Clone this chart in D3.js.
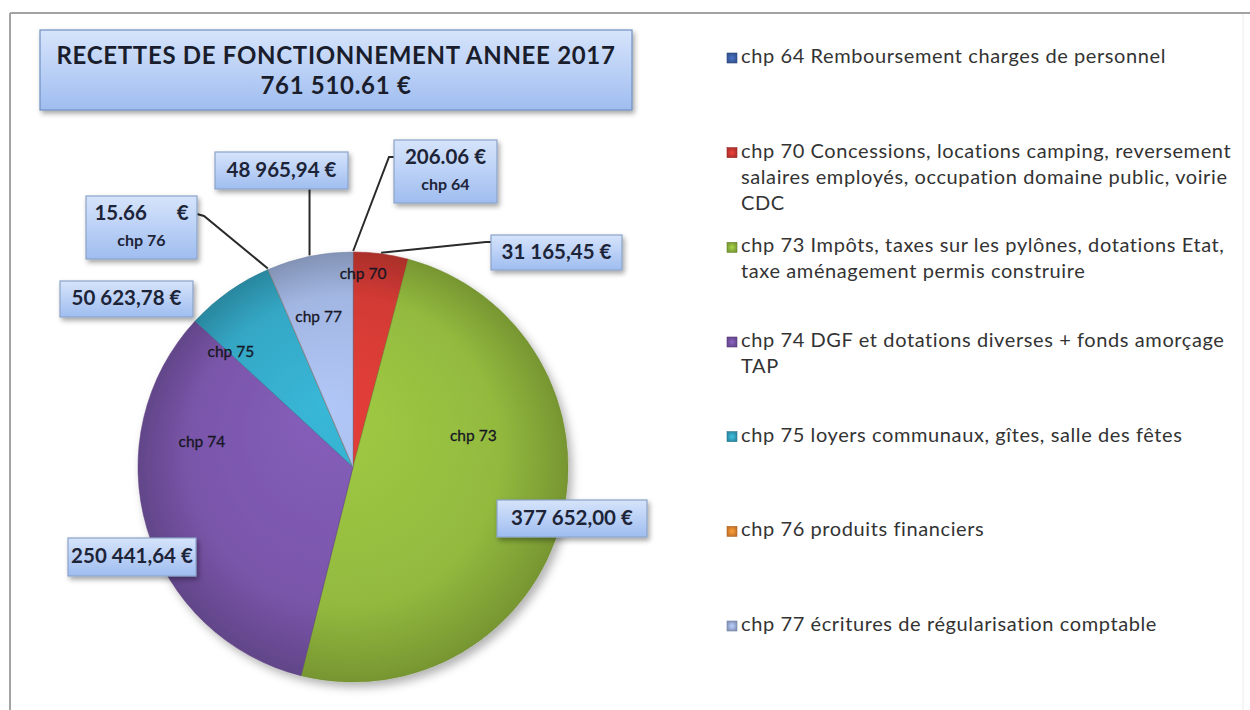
<!DOCTYPE html>
<html>
<head>
<meta charset="utf-8">
<script src="https://cdn.jsdelivr.net/npm/d3@7"></script>
<style>
  body { margin: 0; background: #fff; }
  svg { display: block; font-family: Lato, "Open Sans", sans-serif; }
</style>
</head>
<body>
<div id="plot"></div>
<script>
const width = 1250
const height = 710

// chart data
const chapters = ['chp 64', 'chp 70', 'chp 73', 'chp 74', 'chp 75', 'chp 76', 'chp 77']
const amounts = [206.06, 31165.45, 377652.00, 250441.64, 50623.78, 15.66, 48965.94]
const amountLabels = ['206.06 €', '31 165,45 €', '377 652,00 €', '250 441,64 €', '50 623,78 €', '15.66      €', '48 965,94 €']
const legendTexts = [
    ['chp 64 Remboursement charges de personnel'],
    ['chp 70 Concessions, locations camping, reversement', 'salaires employés, occupation domaine public, voirie', 'CDC'],
    ['chp 73 Impôts, taxes sur les pylônes, dotations Etat,', 'taxe aménagement permis construire'],
    ['chp 74 DGF et dotations diverses + fonds amorçage', 'TAP'],
    ['chp 75 loyers communaux, gîtes, salle des fêtes'],
    ['chp 76 produits financiers'],
    ['chp 77 écritures de régularisation comptable']
]
const titleLines = ['RECETTES DE FONCTIONNEMENT ANNEE 2017', '761 510.61 €']
const colors = ['#3f64ad', '#d23a34', '#93ba3e', '#7a56aa', '#34a7c5', '#ee8c32', '#a2b6e2']

// layout
const pie = {cx: 353, cy: 467, r: 215}
// inside labels: polar position [angle in degrees, radius]
const innerLabelPos = {1: [3, 192], 2: [76, 124], 3: [279, 153], 4: [313, 167], 6: [347, 153]}
// value boxes
const boxes = [
    {i: 0, x: 394, y: 140, w: 103, h: 63, sub: true, lead: 'left', ly: 157},
    {i: 1, x: 491, y: 235, w: 131, h: 35, lead: 'left', ly: 242},
    {i: 2, x: 497, y: 500, w: 150, h: 37},
    {i: 3, x: 68, y: 538, w: 128, h: 38},
    {i: 4, x: 60, y: 281, w: 133, h: 36},
    {i: 5, x: 86, y: 196, w: 111, h: 63, sub: true, lead: 'right', ly: 214},
    {i: 6, x: 215, y: 152, w: 133, h: 37, lead: 'bottom'}
]

const svg = d3.select('div#plot').append('svg')
    .attr('width', width)
    .attr('height', height)
    .attr('viewBox', [0, 0, width, height])

const defs = svg.append('defs')

// shadow filters
const shadow = defs.append('filter').attr('id', 'shadow')
    .attr('x', '-20%').attr('y', '-20%').attr('width', '150%').attr('height', '160%')
shadow.append('feDropShadow')
    .attr('dx', 2).attr('dy', 3).attr('stdDeviation', 2.5)
    .attr('flood-color', '#000').attr('flood-opacity', 0.35)

const pieShadow = defs.append('filter').attr('id', 'pieShadow')
    .attr('x', '-20%').attr('y', '-20%').attr('width', '150%').attr('height', '150%')
pieShadow.append('feDropShadow')
    .attr('dx', 4).attr('dy', 5).attr('stdDeviation', 5)
    .attr('flood-color', '#000').attr('flood-opacity', 0.3)

// box gradient
const boxGrad = defs.append('linearGradient').attr('id', 'boxGrad')
    .attr('x1', 0).attr('y1', 0).attr('x2', 0).attr('y2', 1)
boxGrad.append('stop').attr('offset', '0%').attr('stop-color', '#d6e4fb')
boxGrad.append('stop').attr('offset', '100%').attr('stop-color', '#9fbdf0')

// slice gradients, centred on the pie (group coords)
colors.forEach((c, i) => {
    const g = defs.append('radialGradient').attr('id', 'slice' + i)
        .attr('gradientUnits', 'userSpaceOnUse')
        .attr('cx', 0).attr('cy', 0).attr('r', pie.r)
        .attr('fx', -30).attr('fy', -60)
    g.append('stop').attr('offset', '0%').attr('stop-color', d3.color(c).brighter(0.25))
    g.append('stop').attr('offset', '72%').attr('stop-color', c)
    g.append('stop').attr('offset', '100%').attr('stop-color', d3.color(c).darker(0.6))
})

// legend square gradients
colors.forEach((c, i) => {
    const g = defs.append('radialGradient').attr('id', 'leg' + i)
    g.append('stop').attr('offset', '0%').attr('stop-color', d3.color(c).brighter(0.4))
    g.append('stop').attr('offset', '100%').attr('stop-color', d3.color(c).darker(0.5))
})

// frame
svg.append('line')
    .attr('x1', 10).attr('y1', 13).attr('x2', width).attr('y2', 13)
    .attr('stroke', '#a3a3a3').attr('stroke-width', 2)
svg.append('line')
    .attr('x1', 10).attr('y1', 13).attr('x2', 10).attr('y2', height)
    .attr('stroke', '#a3a3a3').attr('stroke-width', 2)
svg.append('line')
    .attr('x1', 1243).attr('y1', 14).attr('x2', 1243).attr('y2', height)
    .attr('stroke', '#ececec').attr('stroke-width', 1)

// pie
const arcs = d3.pie().sort(null).value(d => d)(amounts)
const arc = d3.arc().innerRadius(0).outerRadius(pie.r)

const pieG = svg.append('g')
    .attr('transform', `translate(${pie.cx},${pie.cy})`)

pieG.append('g').attr('filter', 'url(#pieShadow)')
    .selectAll('path')
    .data(arcs)
    .join('path')
    .attr('d', arc)
    .attr('fill', (d, i) => `url(#slice${i})`)
    .attr('stroke', (d, i) => d3.color(colors[i]).darker(0.8))
    .attr('stroke-width', 0.8)
    .attr('stroke-opacity', 0.7)

// inside labels
Object.entries(innerLabelPos).forEach(([i, [a, r]]) => {
    const [x, y] = d3.pointRadial(a * Math.PI / 180, r)
    pieG.append('text')
        .attr('x', x)
        .attr('y', y)
        .attr('text-anchor', 'middle')
        .attr('dominant-baseline', 'middle')
        .attr('font-size', 15.5)
        .attr('fill', '#161624')
        .attr('stroke', '#161624')
        .attr('stroke-width', 0.3)
        .text(chapters[i])
})

// leader lines
boxes.filter(b => b.lead).forEach(b => {
    const d = arcs[b.i]
    const mid = (d.startAngle + d.endAngle) / 2
    const [px, py] = d3.pointRadial(mid, pie.r + 1)
    const end = [pie.cx + px, pie.cy + py]
    let pts
    if (b.lead === 'left') pts = [[b.x, b.ly], [b.x - 5, b.ly], end]
    else if (b.lead === 'right') pts = [[b.x + b.w, b.ly], [b.x + b.w + 7, b.ly + 2], end]
    else pts = [[end[0], b.y + b.h], end]
    svg.append('path')
        .attr('d', d3.line()(pts))
        .attr('fill', 'none')
        .attr('stroke', '#2a2a2a')
        .attr('stroke-width', 2)
})

// value boxes
const boxG = svg.selectAll('g.box')
    .data(boxes)
    .join('g')
    .attr('class', 'box')
    .attr('transform', b => `translate(${b.x},${b.y})`)

boxG.append('rect')
    .attr('width', b => b.w)
    .attr('height', b => b.h)
    .attr('fill', 'url(#boxGrad)')
    .attr('stroke', '#8aa3c9')
    .attr('stroke-width', 1.2)
    .attr('filter', 'url(#shadow)')

boxG.append('text')
    .attr('x', b => b.w / 2)
    .attr('y', b => b.sub ? 19 : b.h / 2 + 1)
    .attr('text-anchor', 'middle')
    .attr('dominant-baseline', 'middle')
    .attr('font-size', 20.5)
    .attr('font-weight', 'bold')
    .attr('fill', '#1d2438')
    .style('white-space', 'pre')
    .text(b => amountLabels[b.i])

boxG.filter(b => b.sub).append('text')
    .attr('x', b => b.w / 2)
    .attr('y', 46)
    .attr('text-anchor', 'middle')
    .attr('dominant-baseline', 'middle')
    .attr('font-size', 16)
    .attr('font-weight', 'bold')
    .attr('fill', '#1d2438')
    .text(b => chapters[b.i])

// title box
const titleG = svg.append('g').attr('transform', 'translate(40,30)')
titleG.append('rect')
    .attr('width', 592)
    .attr('height', 80)
    .attr('fill', 'url(#boxGrad)')
    .attr('stroke', '#6f8fc0')
    .attr('stroke-width', 1.2)
    .attr('filter', 'url(#shadow)')
titleG.selectAll('text')
    .data(titleLines)
    .join('text')
    .attr('x', 296)
    .attr('y', (d, i) => 28 + i * 30)
    .attr('text-anchor', 'middle')
    .attr('dominant-baseline', 'middle')
    .attr('font-size', 24)
    .attr('font-weight', 'bold')
    .attr('letter-spacing', 0.7)
    .attr('fill', '#1a1d2c')
    .text(d => d)

// legend
const legendY = d3.scaleLinear().domain([0, chapters.length - 1]).range([58, 626])
const legend = svg.append('g')
    .selectAll('g')
    .data(legendTexts)
    .join('g')
    .attr('transform', (d, i) => `translate(727,${legendY(i)})`)

legend.append('rect')
    .attr('x', 0).attr('y', -5)
    .attr('width', 10).attr('height', 10)
    .attr('fill', (d, i) => `url(#leg${i})`)
    .attr('stroke', (d, i) => d3.color(colors[i]).darker(1))
    .attr('stroke-width', 0.6)

legend.each(function (lines) {
    d3.select(this).selectAll('text')
        .data(lines)
        .join('text')
        .attr('x', 14)
        .attr('y', (d, j) => j * 26)
        .attr('dominant-baseline', 'middle')
        .attr('font-size', 20)
        .attr('letter-spacing', 0.6)
        .attr('fill', '#333')
        .text(d => d)
})
</script>
</body>
</html>
